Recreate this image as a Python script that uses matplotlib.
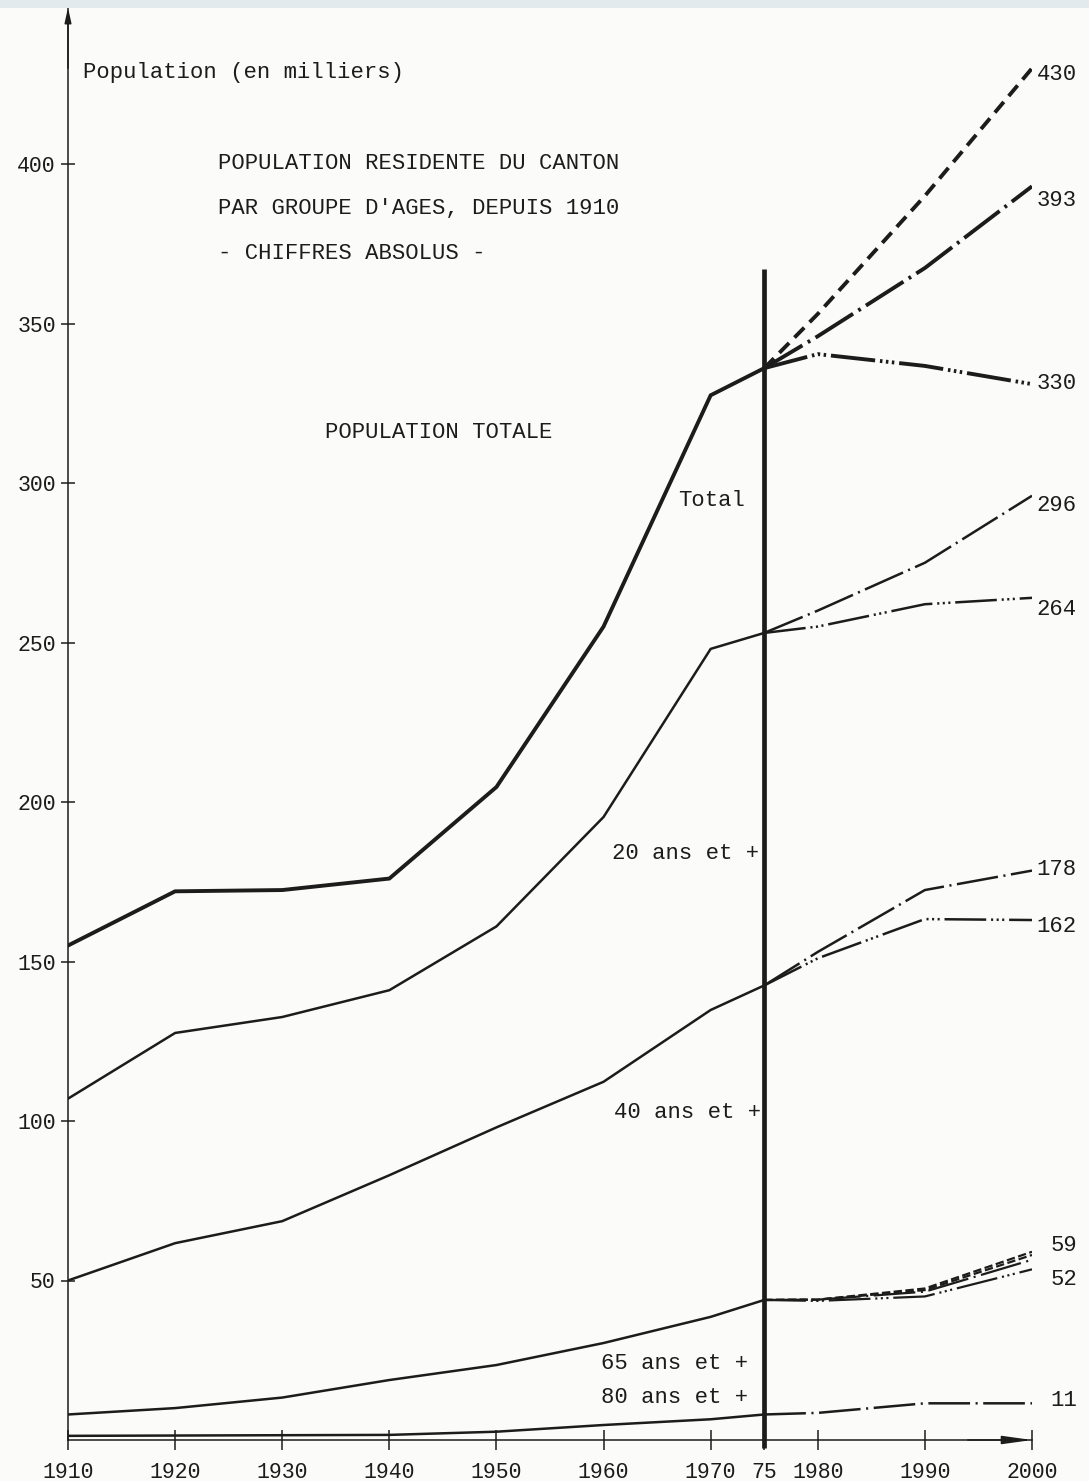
import matplotlib
matplotlib.use("Agg")
import matplotlib.pyplot as plt
from matplotlib.patches import Rectangle

plt.rcParams['font.family'] = ['Liberation Mono', 'DejaVu Sans Mono']
plt.rcParams['lines.scale_dashes'] = False

INK = '#1c1c1c'
BG = '#fbfbf9'

# ---------------- data (thousands of inhabitants) ----------------
years_hist = [1910, 1920, 1930, 1940, 1950, 1960, 1970, 1975]
total_hist = [155, 172, 172.4, 176, 204.7, 255, 327.5, 336]
age20_hist = [107, 127.6, 132.6, 141, 161, 195.3, 248, 253]
age40_hist = [50, 61.7, 68.6, 83, 98, 112.3, 134.8, 142.5]
age65_hist = [8, 10, 13.3, 18.8, 23.5, 30.4, 38.6, 43.9]
age80_hist = [1.3, 1.4, 1.5, 1.6, 2.6, 4.7, 6.5, 8]

years_proj = [1975, 1980, 1990, 2000]
total_high = [336, 353, 390, 430]
total_mid = [336, 346, 367.4, 393]
total_low = [336, 340.4, 336.7, 331]
age20_high = [253, 260, 275, 296]
age20_low = [253, 255, 262, 264]
age40_high = [142.5, 153, 172.4, 178.5]
age40_low = [142.5, 151, 163.3, 163]
age65_a = [43.9, 44, 47.5, 59]
age65_b = [43.9, 44, 47, 58]
age65_c = [43.9, 44, 46.5, 56.5]
age65_d = [43.9, 43.6, 45, 53.5]
age80_proj = [8, 8.5, 11.5, 11.5]

end_labels = ['430', '393', '330', '296', '264', '178', '162', '59', '52', '11']
end_label_y = [427.9, 388.7, 331.3, 292.8, 260.2, 178.7, 161.1, 61.1, 50.2, 12.5]

x_ticks = [1910, 1920, 1930, 1940, 1950, 1960, 1970, 1975, 1980, 1990, 2000]
x_tick_labels = ['1910', '1920', '1930', '1940', '1950', '1960', '1970', '75',
                 '1980', '1990', '2000']
y_ticks = [50, 100, 150, 200, 250, 300, 350, 400]
y_tick_labels = ['50', '100', '150', '200', '250', '300', '350', '400']

# ---------------- figure ----------------
W, H = 1089, 1481
fig = plt.figure(figsize=(W / 100, H / 100), dpi=100, facecolor=BG)
fig.patches.append(Rectangle((0, 1 - 8 / H), 1, 8 / H, transform=fig.transFigure,
                             facecolor='#e3eaee', edgecolor='none', zorder=0))

ax = fig.add_axes([68 / W, 41 / H, 964 / W, 1432 / H])
ax.set_xlim(1910, 2000)
ax.set_ylim(0, 1432 / 3.19)
ax.patch.set_alpha(0)
for s in ('top', 'right'):
    ax.spines[s].set_visible(False)
for s in ('left', 'bottom'):
    ax.spines[s].set_linewidth(1.1)
    ax.spines[s].set_color(INK)

ax.set_xticks(x_ticks)
ax.set_xticklabels(x_tick_labels)
ax.set_yticks(y_ticks)
ax.set_yticklabels(y_tick_labels)
ax.tick_params(axis='x', direction='inout', length=14, width=1.1, pad=9,
               labelsize=15.5, colors=INK)
ax.tick_params(axis='y', direction='inout', length=9.5, width=1.1, pad=4,
               labelsize=15.5, colors=INK)

# axis arrows
ax.annotate('', xy=(1910, 449), xytext=(1910, 430),
            arrowprops=dict(arrowstyle='-|>,head_length=0.9,head_width=0.2',
                            lw=1.1, color=INK, shrinkA=0, shrinkB=0),
            annotation_clip=False)
ax.annotate('', xy=(2000, 0), xytext=(1994, 0),
            arrowprops=dict(arrowstyle='-|>,head_length=1.8,head_width=0.25',
                            lw=1.1, color=INK, shrinkA=0, shrinkB=0),
            annotation_clip=False)

# historical series
ax.plot(years_hist, total_hist, color=INK, lw=2.8, solid_joinstyle='miter', zorder=3)
for ser in (age20_hist, age40_hist, age65_hist, age80_hist):
    ax.plot(years_hist, ser, color=INK, lw=1.8, zorder=3)

# projection styles (points)
DASH = (0, (10, 5.5))
DASHDOT_THICK = (0, (32, 4.5, 2, 4.5))
DASHDOTDOT_THICK = (0, (32, 3.5, 1.8, 2.5, 1.8, 2.5, 1.8, 3.5))
DASHDOT = (0, (30, 4, 1.5, 4))
DASHDOTDOT = (0, (30, 3.5, 1.5, 2.5, 1.5, 2.5, 1.5, 3.5))
SMALLDASH = (0, (6, 2.5))

def proj(vals, ls, lw):
    ax.plot(years_proj, vals, color=INK, lw=lw, linestyle=ls,
            dash_capstyle='butt', zorder=3)

proj(total_high, DASH, 2.8)
proj(total_mid, DASHDOT_THICK, 2.8)
proj(total_low, DASHDOTDOT_THICK, 2.8)
proj(age20_high, DASHDOT, 1.8)
proj(age20_low, DASHDOTDOT, 1.8)
proj(age40_high, DASHDOT, 1.8)
proj(age40_low, DASHDOTDOT, 1.8)
proj(age65_a, SMALLDASH, 1.6)
proj(age65_b, SMALLDASH, 1.6)
proj(age65_c, DASHDOT, 1.6)
proj(age65_d, DASHDOTDOT, 1.6)
proj(age80_proj, DASHDOT, 1.8)

# vertical separator at 1975
ax.plot([years_hist[-1], years_hist[-1]], [-2.5, 367], color=INK, lw=3.4,
        solid_capstyle='butt', clip_on=False, zorder=4)

# texts
FS = 16
tkw = dict(color=INK, fontsize=FS, va='center', ha='left', clip_on=False)
ax.text(1911.4, 428.8, 'Population (en milliers)', **tkw)
ax.text(1924.0, 400.3, 'POPULATION RESIDENTE DU CANTON', **tkw)
ax.text(1924.0, 385.9, "PAR GROUPE D'AGES, DEPUIS 1910", **tkw)
ax.text(1924.0, 372.1, '- CHIFFRES ABSOLUS -', **tkw)
ax.text(1934.0, 315.7, 'POPULATION TOTALE', **tkw)
ax.text(1966.95, 294.4, 'Total', **tkw)
ax.text(1960.8, 184.0, '20 ans et +', **tkw)
ax.text(1961.0, 102.8, '40 ans et +', **tkw)
ax.text(1959.8, 24.1, '65 ans et +', **tkw)
ax.text(1959.8, 13.2, '80 ans et +', **tkw)

for lab, yv in zip(end_labels, end_label_y):
    ax.text(2004.2, yv, lab, color=INK, fontsize=FS, va='center', ha='right',
            clip_on=False)

fig.savefig('out.png', dpi=100, facecolor=BG)
